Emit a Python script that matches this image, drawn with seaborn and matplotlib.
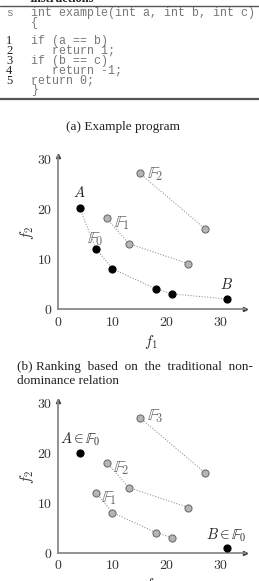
import matplotlib
matplotlib.use("Agg")
import matplotlib.pyplot as plt
from matplotlib.lines import Line2D
import pandas as pd
import seaborn as sns

# ---- data ----
code_numbers = ["s", "", "1", "2", "3", "4", "5", ""]
code_lines = ["int example(int a, int b, int c)", "{", "if (a == b)", "   return 1;",
              "if (b == c)", "   return -1;", "return 0;", "}"]

# plot (b): traditional non-dominance fronts
front0_x = [4, 7, 10, 18, 21, 31]
front0_y = [20, 12, 8, 4, 3, 2]
front1_x = [9, 13, 24]
front1_y = [18, 13, 9]
front2_x = [15, 27]
front2_y = [27, 16]

# plot (c): ranking with A and B extreme points
extreme_x = [4, 31]
extreme_y = [20, 1]
rank1_x = [7, 10, 18, 21]
rank1_y = [12, 8, 4, 3]
rank2_x = [9, 13, 24]
rank2_y = [18, 13, 9]
rank3_x = [15, 27]
rank3_y = [27, 16]

x_ticks = [0, 10, 20, 30]
y_ticks = [0, 10, 20, 30]

sns.set_style("white")
plt.rcParams["mathtext.fontset"] = "cm"
plt.rcParams["font.family"] = ["DejaVu Serif"]

W, H = 259, 581
fig = plt.figure(figsize=(W / 100, H / 100), dpi=100)


def fx(px):
    return px / W


def fy(py):
    return 1 - py / H


# ---- table (a) ----
fig.text(fx(30), fy(2), "Instructions", fontsize=9, fontweight="bold",
         family="Liberation Serif", va="baseline", ha="left", color="#222")
fig.add_artist(Line2D([0, 1], [fy(6), fy(6)], color="#555", lw=1.0))
fig.add_artist(Line2D([0, 1], [fy(99), fy(99)], color="#555", lw=1.6))

row_y = [13, 23, 41, 51, 61, 71, 81, 90]
for num, line, y in zip(code_numbers, code_lines, row_y):
    if num == "s":
        fig.text(fx(6), fy(y), num, family="Liberation Mono", fontsize=8,
                 color="#777", va="center")
    elif num:
        fig.text(fx(6), fy(y), num, family="Liberation Serif", fontsize=9,
                 color="#222", va="center")
    fig.text(fx(31), fy(y), line, family="Liberation Mono", fontsize=8.4,
             color="#777", va="center")

fig.text(fx(123), fy(127), "(a) Example program", family="Liberation Serif",
         fontsize=9.5, ha="center", va="center", color="#222")

fig.text(fx(17), fy(367), "(b) Ranking  based  on  the  traditional  non-",
         family="Liberation Serif", fontsize=9.5, ha="left", va="center", color="#222")
fig.text(fx(17), fy(381), "dominance relation", family="Liberation Serif",
         fontsize=9.5, ha="left", va="center", color="#222")

AXIS_GRAY = "#8a8a8a"
XMAX, YMAX = 34.4, 30.4


def make_axes(origin_y, px_per_y):
    top = origin_y - YMAX * px_per_y
    ax = fig.add_axes([fx(58), fy(origin_y), fx(245) - fx(58), fy(top) - fy(origin_y)])
    ax.set_xlim(0, XMAX)
    ax.set_ylim(0, YMAX)
    for s in ["top", "right"]:
        ax.spines[s].set_visible(False)
    for s in ["left", "bottom"]:
        ax.spines[s].set_color(AXIS_GRAY)
        ax.spines[s].set_linewidth(1.3)
    ax.set_xticks(x_ticks)
    ax.set_yticks(y_ticks)
    ax.set_xticklabels([f"${t}$" for t in x_ticks])
    ax.set_yticklabels([f"${t}$" for t in y_ticks])
    ax.tick_params(direction="inout", length=4, width=0.8, color=AXIS_GRAY,
                   labelsize=10, labelcolor="#333", pad=2)
    ax.plot(1, 0, ">", color="#444", markersize=3, transform=ax.get_yaxis_transform(), clip_on=False)
    ax.plot(0, 1, "^", color="#444", markersize=3, transform=ax.get_xaxis_transform(), clip_on=False)
    ax.set_facecolor("none")
    return ax


def draw_front(ax, xs, ys, color, edge, line=True):
    df = pd.DataFrame({"x": xs, "y": ys})
    if line and len(xs) > 1:
        sns.lineplot(data=df, x="x", y="y", sort=False, ax=ax, color="#999",
                     linestyle=(0, (1, 1.5)), linewidth=0.8)
    sns.scatterplot(data=df, x="x", y="y", ax=ax, color=color, edgecolor=edge,
                    linewidth=0.8, s=26, zorder=3, clip_on=False)


LABEL_GRAY = "#666"
FS_F = 12.5

# ---- plot (b) ----
ax1 = make_axes(309, 5.03)
draw_front(ax1, front0_x, front0_y, "black", "black")
draw_front(ax1, front1_x, front1_y, "#b5b5b5", "#707070")
draw_front(ax1, front2_x, front2_y, "#b5b5b5", "#707070")
ax1.text(front0_x[0], front0_y[0] + 1.6, "$A$", ha="center", va="bottom", fontsize=10.5, color="#222")
ax1.text(front0_x[-1], front0_y[-1] + 1.4, "$B$", ha="center", va="bottom", fontsize=10.5, color="#222")
ax1.text(5.4, 14.0, r"$\mathbb{F}_0$", ha="left", va="center", fontsize=FS_F, color=LABEL_GRAY)
ax1.text(10.3, 17.0, r"$\mathbb{F}_1$", ha="left", va="center", fontsize=FS_F, color=LABEL_GRAY)
ax1.text(16.3, 26.8, r"$\mathbb{F}_2$", ha="left", va="center", fontsize=FS_F, color=LABEL_GRAY)
ax1.set_xlabel("$f_1$", fontsize=11, color="#333", labelpad=3)
ax1.set_ylabel("$f_2$", fontsize=11, color="#333", labelpad=1)

# ---- plot (c) ----
ax2 = make_axes(552.5, 5.0)
draw_front(ax2, extreme_x, extreme_y, "black", "black", line=False)
draw_front(ax2, rank1_x, rank1_y, "#b5b5b5", "#707070")
draw_front(ax2, rank2_x, rank2_y, "#b5b5b5", "#707070")
draw_front(ax2, rank3_x, rank3_y, "#b5b5b5", "#707070")
ax2.text(4.0, 22.6, r"$A\in\mathbb{F}_0$", ha="center", va="center", fontsize=10.5, color="#222")
ax2.text(31.0, 3.4, r"$B\in\mathbb{F}_0$", ha="center", va="center", fontsize=10.5, color="#222")
ax2.text(8.0, 10.8, r"$\mathbb{F}_1$", ha="left", va="center", fontsize=FS_F, color=LABEL_GRAY)
ax2.text(10.2, 16.8, r"$\mathbb{F}_2$", ha="left", va="center", fontsize=FS_F, color=LABEL_GRAY)
ax2.text(16.3, 27.2, r"$\mathbb{F}_3$", ha="left", va="center", fontsize=FS_F, color=LABEL_GRAY)
ax2.set_xlabel("$f_1$", fontsize=11, color="#333", labelpad=3)
ax2.set_ylabel("$f_2$", fontsize=11, color="#333", labelpad=1)

fig.savefig("out.png", dpi=100)
